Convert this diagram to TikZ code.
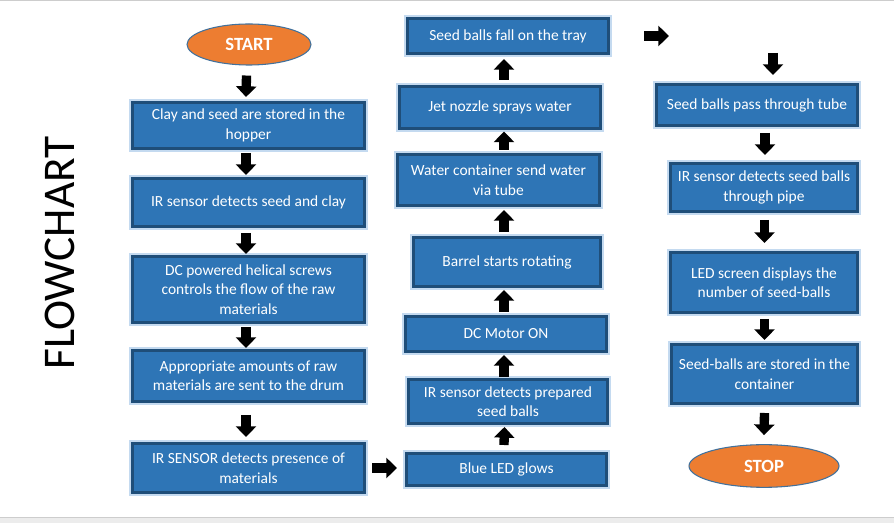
\documentclass[tikz,border=0pt]{standalone}
\usepackage{fontspec}
\setmainfont{Carlito}
\usetikzlibrary{arrows.meta,shapes.geometric,backgrounds,calc}
\definecolor{boxfill}{RGB}{46,117,182}
\definecolor{boxline}{RGB}{31,78,121}
\definecolor{glow}{RGB}{196,218,240}
\definecolor{ovalfill}{RGB}{237,125,49}
\definecolor{ovalline}{RGB}{65,113,156}
\definecolor{reflc}{RGB}{212,224,240}
\definecolor{framec}{RGB}{205,205,205}
\definecolor{bandc}{RGB}{236,236,236}
\tikzset{
  box/.style={rectangle, fill=boxfill, draw=boxline, line width=2pt,
    preaction={draw=glow, line width=4.5pt}, text=white, align=center,
    font=\fontsize{11.6}{14.6}\selectfont, inner sep=0pt},
  oval/.style={ellipse, fill=ovalfill, draw=ovalline, line width=0.8pt,
    text=white, font=\bfseries\fontsize{14}{16}\selectfont, inner sep=0pt},
  blk/.style={draw=black, line width=7pt, -{Triangle[width=15pt,length=8pt]}},
  reflsh/.style={top color=reflc, bottom color=white},
}
\newcommand\bx[6]{%
  \pgfmathsetmacro\bxw{(#4-#2)*0.75-2}%
  \pgfmathsetmacro\bxh{(#5-#3)*0.75-2}%
  \node[box, minimum width=\bxw pt, minimum height=\bxh pt] (#1) at ({(#2+#4)/2},{(#3+#5)/2}) {#6};}
\newcommand\reflbox[1]{\shade[reflsh] (#1.south west) rectangle ($(#1.south east)+(0,16)$);}
\begin{document}
\begin{tikzpicture}[x=0.75pt,y=-0.75pt]
\useasboundingbox (0,0) rectangle (894,523);
\fill[white] (0,0) rectangle (894,523);
\draw[framec, line width=0.75pt] (0,0.5) -- (894,0.5);
\fill[bandc] (0,518) rectangle (894,523);
\draw[framec, line width=0.75pt] (0,518) -- (894,518);

\node[font=\fontsize{34}{34}\selectfont, rotate=90] (title) at (60,253) {FLOWCHART};

% column 1
\node[oval, minimum width=93pt, minimum height=30.75pt] (start) at (249,44.5) {START};
\bx{b1}{131}{101}{366}{150}{Clay and seed are stored in the\\hopper}
\bx{b2}{131}{177}{366}{228}{IR sensor detects seed and clay}
\bx{b3}{131}{255}{366}{324}{DC powered helical screws\\controls the flow of the raw\\materials}
\bx{b4}{131}{349}{366}{403}{Appropriate amounts of raw\\materials are sent to the drum}
\bx{b5}{131}{442}{366}{494}{IR SENSOR detects presence of\\materials}

% column 2
\bx{c1}{405}{452}{608}{487}{Blue LED glows}
\bx{c2}{407}{378}{609}{425}{IR sensor detects prepared\\seed balls}
\bx{c3}{404}{315}{608}{353}{DC Motor ON}
\bx{c4}{412}{236}{602}{288}{Barrel starts rotating}
\bx{c5}{396}{153}{601}{207}{Water container send water\\via tube}
\bx{c6}{398}{85}{602}{130}{Jet nozzle sprays water}
\bx{c7}{406}{17}{610}{55}{Seed balls fall on the tray}

% column 3
\bx{d1}{655}{83}{859}{127}{Seed balls pass through tube}
\bx{d2}{669}{162}{859}{213}{IR sensor detects seed balls\\through pipe}
\bx{d3}{669}{251}{859}{314}{LED screen displays the\\number of seed-balls}
\bx{d4}{670}{343}{859}{405}{Seed-balls are stored in the\\container}
\node[oval, minimum width=112.5pt, minimum height=32pt] (stop) at (764,466) {STOP};

\coordinate (p) at (669,36);
\coordinate (q) at (773,53);

\begin{pgfonlayer}{background}
\foreach \n in {b1,b2,b3,b4,b5,c1,c2,c3,c4,c5,c6,c7,d1,d2,d3,d4}{\reflbox{\n}}
\end{pgfonlayer}

% arrows column 1
\draw[blk] ($(start.south)+(-2.5,10)$) -- ($(b1.north)+(-2.5,-4)$);
\draw[blk] ($(b1.south)+(-2.5,3)$) -- ($(b2.north)+(-2.5,-2)$);
\draw[blk] ($(b2.south)+(-2.5,5)$) -- ($(b3.north)+(-2.5,-1)$);
\draw[blk] ($(b3.south)+(-2.5,3)$) -- ($(b4.north)+(-2.5,-1)$);
\draw[blk] ($(b4.south)+(-2.5,12)$) -- ($(b5.north)+(-2.5,-5)$);
\draw[blk] ($(b5.east)+(6,0)$) -- ($(c1.west)+(-8,-1.5)$);
% arrows column 2
\draw[blk] ($(c1.north)+(-2.5,-7)$) -- ($(c2.south)+(-3.5,2)$);
\draw[blk] ($(c2.north)+(-4,-1)$) -- ($(c3.south)+(-2,2)$);
\draw[blk] ($(c3.north)+(-2,-3)$) -- ($(c4.south)+(-3,2)$);
\draw[blk] ($(c4.north)+(-3,-4)$) -- ($(c5.south)+(5.5,3)$);
\draw[blk] ($(c5.north)+(5.5,-3)$) -- ($(c6.south)+(4,1.5)$);
\draw[blk] ($(c6.north)+(4,-5)$) -- ($(c7.south)+(-4,4)$);
\draw[blk] ($(c7.east)+(34,0)$) -- (p);
% arrows column 3
\draw[blk] (q) -- ($(d1.north)+(16,-8)$);
\draw[blk] ($(d1.south)+(8,6)$) -- ($(d2.north)+(1,-7)$);
\draw[blk] ($(d2.south)+(0.5,7)$) -- ($(d3.north)+(0.5,-8)$);
\draw[blk] ($(d3.south)+(0.5,5)$) -- ($(d4.north)+(0,-3)$);
\draw[blk] ($(d4.south)+(0,8)$) -- ($(stop.north)+(0,-9)$);
\end{tikzpicture}
\end{document}
